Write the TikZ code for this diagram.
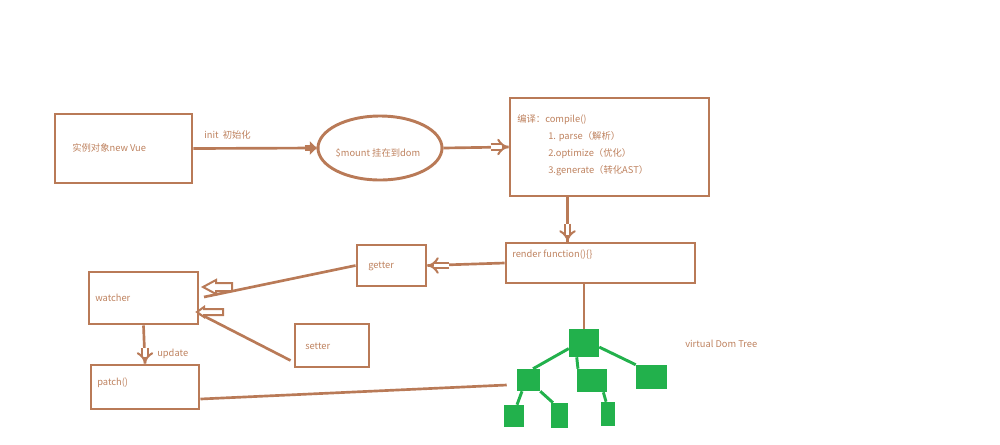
\documentclass[tikz,border=0pt]{standalone}
\usepackage{fontspec}
\setmainfont{Noto Sans CJK SC}
\usetikzlibrary{arrows.meta,shapes.geometric,calc}
\definecolor{brn}{RGB}{185,122,87}
\definecolor{txt}{RGB}{190,130,95}
\definecolor{grn}{RGB}{34,177,76}
\begin{document}
\begin{tikzpicture}[x=0.75pt,y=-0.75pt,
  box/.style={draw=brn,line width=2.2pt,rectangle,inner sep=0pt},
  lbl/.style={text=txt,font=\fontsize{7}{8}\selectfont,anchor=west,inner sep=0pt},
  conn/.style={draw=brn,line width=2pt},
  dbl/.style={draw=brn,double=white,double distance=2.6pt,line width=1.5pt,-{Implies[length=6pt,width=11pt]}},
  solidtip/.style={draw=brn,line width=4pt,-{Triangle[length=5pt,width=10pt]}},
  blk/.style={draw=brn,line width=1.5pt,fill=white},
  gbox/.style={fill=grn,draw=none,rectangle,inner sep=0pt},
  gl/.style={draw=grn,line width=2.2pt}]
\useasboundingbox (0,0) rectangle (1000,444);
% boxes
\node[box,minimum width=102.75pt,minimum height=51.75pt] (vue) at (123.5,148.5) {};
\node[draw=brn,line width=2.2pt,ellipse,minimum width=93pt,minimum height=48pt,inner sep=0pt] (mount) at (380,148) {};
\node[box,minimum width=149.25pt,minimum height=73.5pt] (compile) at (609.5,147) {};
\node[box,minimum width=141.75pt,minimum height=30pt] (render) at (600.5,263) {};
\node[box,minimum width=51.75pt,minimum height=30.75pt] (getter) at (391.5,265.5) {};
\node[box,minimum width=81.75pt,minimum height=39pt] (watcher) at (143.5,298) {};
\node[box,minimum width=55.5pt,minimum height=32.25pt] (setter) at (332,345.5) {};
\node[box,minimum width=81pt,minimum height=33pt] (patch) at (145,387) {};
% texts
\node[lbl] (t1) at (72,148) {实例对象new Vue};
\node[lbl] (t2) at (204,135) {init\ \ 初始化};
\node[lbl,anchor=center] (t3) at (378,153) {\$mount 挂在到dom};
\node[lbl] (t4) at (517,120) {编译：compile()};
\node[lbl] (t5) at (548,137) {1. parse（解析）};
\node[lbl] (t6) at (548,154) {2.optimize（优化）};
\node[lbl] (t7) at (548,171) {3.generate（转化AST）};
\node[lbl] (t8) at (512,255) {render function()\{\}};
\node[lbl] (t9) at (368,266) {getter};
\node[lbl] (t10) at (95,298) {watcher};
\node[lbl] (t11) at (305,346) {setter};
\node[lbl] (t12) at (157,354) {update};
\node[lbl] (t13) at (97,383) {patch()};
\node[lbl] (t14) at (685,344) {virtual Dom Tree};
% green tree
\node[gbox,minimum width=22.5pt,minimum height=21pt] (root) at (584,343) {};
\node[gbox,minimum width=17.25pt,minimum height=16.5pt] (c1) at (528.5,380) {};
\node[gbox,minimum width=22.5pt,minimum height=17.25pt] (c2) at (592,380.5) {};
\node[gbox,minimum width=23.25pt,minimum height=18pt] (c3) at (651.5,377) {};
\node[gbox,minimum width=15pt,minimum height=16.5pt] (g1) at (514,416) {};
\node[gbox,minimum width=12.75pt,minimum height=18.75pt] (g2) at (559.5,415.5) {};
\node[gbox,minimum width=10.5pt,minimum height=18pt] (g3) at (608,414) {};
\draw[gl] (root.200) -- (c1.68);
\draw[gl] (root.243) -- (c2.140);
\draw[gl] (root.-15) -- (c3.north west);
\draw[gl] (c1.240) -- (g1.75);
\draw[gl] (c1.south east) -- (g2.117);
\draw[gl] (c2.-46) -- (g3.99);
% connectors
\draw[conn] (vue.east) -- (mount.west);
\draw[solidtip] ($(mount.west)+(-12,0)$) -- (mount.west);
\draw[conn] (mount.east) -- (compile.west);
\draw[dbl] ($(compile.west)+(-18,0)$) -- (compile.west);
\coordinate (cs) at ($(compile.south west)+(59,0)$);
\coordinate (rn) at ($(render.north west)+(63,0)$);
\draw[conn] (cs) -- (rn);
\draw[dbl] ($(rn)+(0,-18)$) -- (rn);
\draw[conn] (render.west) -- (getter.east);
\draw[dbl] ($(getter.east)+(22,0)$) -- (getter.east);
\coordinate (wg) at (204,297);
\draw[conn] (getter.west) -- (wg);
\coordinate (ws) at (198,313);
\coordinate (sw) at ($(setter.south west)+(-3,-8)$);
\draw[conn] (sw) -- (ws);
\draw[blk] (203,287) -- (216,280) -- (216,283) -- (232,283) -- (232,291) -- (216,291) -- (216,294) -- cycle;
\draw[blk] (197,312) -- (204,307) -- (204,309) -- (223,309) -- (223,315) -- (204,315) -- (204,317) -- cycle;
\draw[conn] (watcher.south) -- (patch.north);
\draw[dbl] ($(patch.north)+(0,-16)$) -- (patch.north);
\coordinate (pe) at ($(patch.east)+(0,12)$);
\coordinate (ce) at ($(c1.west)+(-10,5)$);
\draw[conn] (pe) -- (ce);
\draw[conn] (render.south -| root.north) -- (root.north);
\end{tikzpicture}
\end{document}
